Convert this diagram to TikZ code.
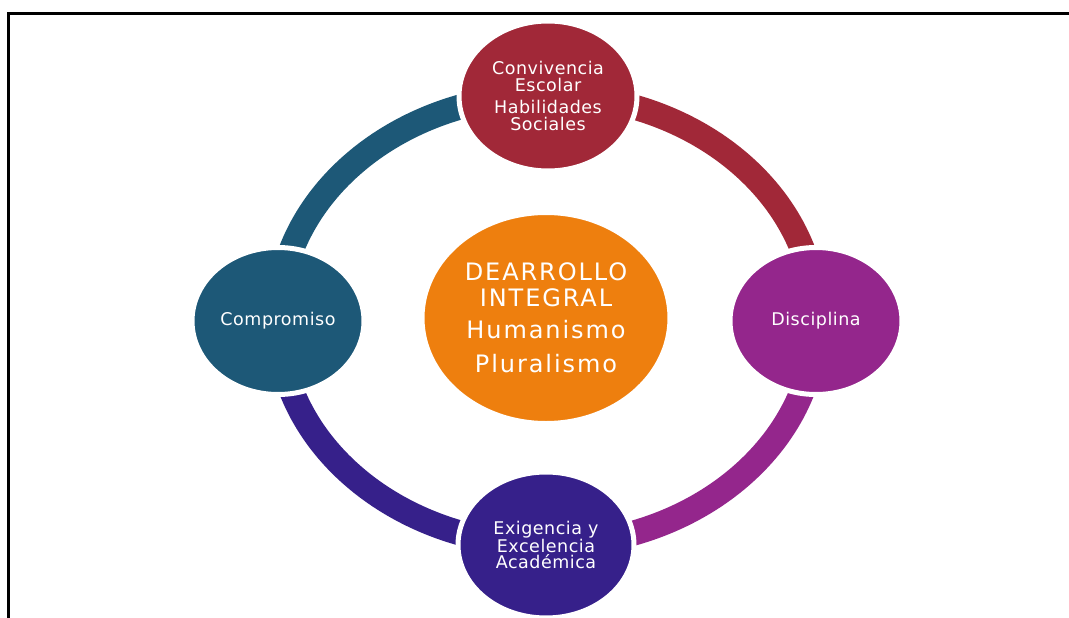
\documentclass[tikz,border=0pt]{standalone}
\usepackage{fontspec}
\setmainfont{DejaVu Sans}
\newfontfamily\smallfont[LetterSpace=3]{DejaVu Sans}
\newfontfamily\bigfont[LetterSpace=8]{DejaVu Sans}
\usetikzlibrary{shapes.geometric}
\definecolor{cred}{HTML}{A12838}
\definecolor{cblue}{HTML}{1D5877}
\definecolor{cpurple}{HTML}{94268C}
\definecolor{cindigo}{HTML}{36208A}
\definecolor{corange}{HTML}{EE7F0E}
\tikzset{
  bubble/.style={ellipse, draw=white, line width=5pt, inner sep=0pt, text=white, align=center,
    font=\smallfont\fontsize{17.5}{16.5}\selectfont},
  ringarc/.style={line width=25pt},
  frame/.style={line width=3.3pt, black}
}
\begin{document}
\begin{tikzpicture}[x=1pt,y=-1pt]
\useasboundingbox (0,0) rectangle (1069,618);
\draw[frame] (8.5,618) -- (8.5,13.8) -- (1069,13.8);
\coordinate (ring) at (547,320);
% ring arcs
\draw[ringarc, cblue] (ring) ++(-269,0) arc[start angle=180, end angle=270, x radius=269, y radius=225];
\draw[ringarc, cred] (ring) ++(0,-225) arc[start angle=270, end angle=360, x radius=269, y radius=225];
\draw[ringarc, cpurple] (ring) ++(269,0) arc[start angle=0, end angle=90, x radius=269, y radius=225];
\draw[ringarc, cindigo] (ring) ++(0,225) arc[start angle=90, end angle=180, x radius=269, y radius=225];
% nodes
\node[bubble, fill=cred, minimum width=178pt, minimum height=150pt] (top) at (548,96)
  {Convivencia\\Escolar\\[6pt]Habilidades\\Sociales};
\node[bubble, fill=cblue, minimum width=172pt, minimum height=147pt] (left) at (278,321) {Compromiso};
\node[bubble, fill=cpurple, minimum width=172pt, minimum height=147pt] (right) at (816,321) {Disciplina};
\node[bubble, fill=cindigo, minimum width=176pt, minimum height=146pt] (bottom) at (546,545)
  {Exigencia y\\Excelencia\\Académica};
\node[bubble, fill=corange, minimum width=248pt, minimum height=211pt,
  font=\bigfont\fontsize{24}{26}\selectfont] (center) at (546,318)
  {DEARROLLO\\INTEGRAL\\[6pt]Humanismo\\[8pt]Pluralismo};
\end{tikzpicture}
\end{document}
